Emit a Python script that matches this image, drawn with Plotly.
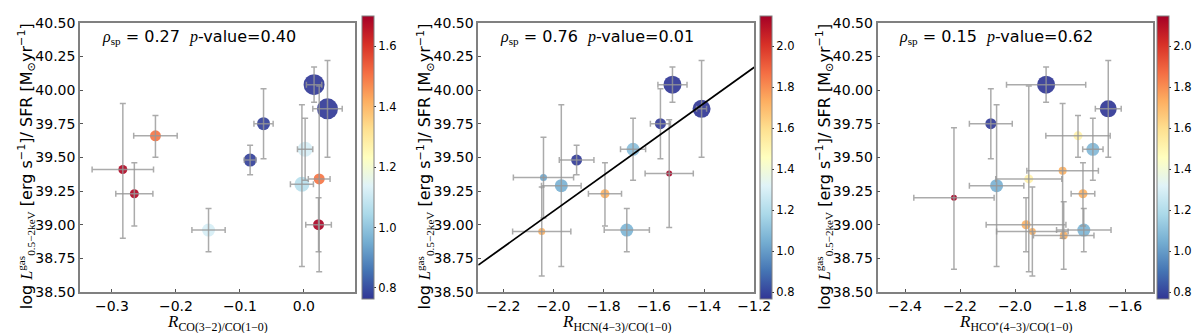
import numpy as np
import plotly.graph_objects as go

# ---------------- data ----------------
# Panel 1: R_CO(3-2)/CO(1-0)
x1 = [0.016, 0.037, -0.063, -0.084, 0.002, -0.003, 0.024, 0.023, -0.232, -0.283, -0.265, -0.149]
y1 = [40.04, 39.86, 39.75, 39.48, 39.56, 39.30, 39.34, 39.00, 39.66, 39.41, 39.23, 38.96]
xe1 = [0.012, 0.023, 0.015, 0.009, 0.012, 0.018, 0.017, 0.020, 0.034, 0.048, 0.029, 0.026]
ye1_up = [0.13, 0.36, 0.26, 0.11, 0.23, 0.59, 0.69, 0.20, 0.15, 0.49, 0.23, 0.16]
ye1_dn = [0.13, 0.36, 0.26, 0.11, 0.23, 0.61, 0.69, 0.20, 0.16, 0.51, 0.24, 0.16]
c1 = [0.77, 0.77, 0.78, 0.78, 1.12, 1.07, 1.50, 1.69, 1.50, 1.68, 1.68, 1.12]
s1 = [21, 21, 13, 13, 15, 15, 11, 11, 11, 9, 9, 13]

# Panel 2: R_HCN(4-3)/CO(1-0)
x2 = [-1.526, -1.410, -1.574, -1.908, -1.683, -1.539, -2.040, -1.969, -1.795, -2.047, -1.708]
y2 = [40.04, 39.86, 39.75, 39.48, 39.56, 39.38, 39.35, 39.29, 39.23, 38.95, 38.96]
xe2 = [0.058, 0.020, 0.040, 0.069, 0.050, 0.096, 0.120, 0.079, 0.066, 0.116, 0.090]
ye2_up = [0.13, 0.36, 0.26, 0.11, 0.23, 0.40, 0.30, 0.60, 0.23, 0.33, 0.16]
ye2_dn = [0.13, 0.36, 0.26, 0.11, 0.23, 0.40, 0.30, 0.60, 0.24, 0.33, 0.16]
c2 = [0.77, 0.77, 0.78, 0.78, 1.10, 2.14, 1.03, 1.06, 1.72, 1.72, 1.07]
s2 = [18, 18, 11, 11, 13, 6, 7, 13, 9, 7, 13]
fit_slope = 1.336
fit_intercept = 41.773

# Panel 3: R_HCO+(4-3)/CO(1-0)
x3 = [-1.887, -1.661, -2.088, -1.771, -1.717, -1.827, -1.950, -2.067, -2.222, -1.753, -1.960, -1.937, -1.823, -1.750]
y3 = [40.04, 39.86, 39.75, 39.66, 39.56, 39.40, 39.34, 39.29, 39.20, 39.23, 39.00, 38.95, 38.92, 38.96]
xe3 = [0.144, 0.047, 0.078, 0.117, 0.037, 0.130, 0.120, 0.099, 0.146, 0.043, 0.145, 0.130, 0.110, 0.099]
ye3_up = [0.13, 0.36, 0.26, 0.15, 0.23, 0.50, 0.69, 0.60, 0.52, 0.23, 0.20, 0.33, 0.25, 0.16]
ye3_dn = [0.13, 0.36, 0.26, 0.16, 0.23, 0.50, 0.69, 0.60, 0.53, 0.24, 0.20, 0.33, 0.25, 0.16]
c3 = [0.77, 0.77, 0.78, 1.52, 1.08, 1.72, 1.52, 1.06, 2.14, 1.72, 1.72, 1.72, 1.72, 1.07]
s3 = [18, 17, 11, 9, 13, 8, 9, 13, 6, 9, 9, 7, 8, 13]

rho_texts = ["0.27", "0.76", "0.15"]
p_texts = ["0.40", "0.01", "0.62"]
cranges = [(0.764, 1.70), (0.767, 2.148), (0.767, 2.148)]
cticks = [[0.8, 1.0, 1.2, 1.4, 1.6], [0.8, 1.0, 1.2, 1.4, 1.6, 1.8, 2.0], [0.8, 1.0, 1.2, 1.4, 1.6, 1.8, 2.0]]
xranges = [(-0.35, 0.08), (-2.3, -1.2), (-2.5, -1.5)]
xtickvals = [[-0.3, -0.2, -0.1, 0.0], [-2.2, -2.0, -1.8, -1.6, -1.4, -1.2], [-2.4, -2.2, -2.0, -1.8, -1.6]]
ytickvals = [38.50, 38.75, 39.00, 39.25, 39.50, 39.75, 40.00, 40.25, 40.50]
yrange = (38.4999, 40.5001)

# ---------------- style ----------------
W, H = 1200, 333
RDYLBU_R = [
    [0.0, 'rgb(49,54,149)'], [0.1, 'rgb(69,117,180)'], [0.2, 'rgb(116,173,209)'],
    [0.3, 'rgb(171,217,233)'], [0.4, 'rgb(224,243,248)'], [0.5, 'rgb(255,255,191)'],
    [0.6, 'rgb(254,224,144)'], [0.7, 'rgb(253,174,97)'], [0.8, 'rgb(244,109,67)'],
    [0.9, 'rgb(215,48,39)'], [1.0, 'rgb(165,0,38)']]
SERIF = "Liberation Serif, Times New Roman, serif"
SANS = "DejaVu Sans, sans-serif"

panel_px = [(73, 352), (477, 757), (882, 1161)]
cbar_px = [359, 763, 1166]
plot_top, plot_bot = 7, 290
ydom = [(H - plot_bot) / H, (H - plot_top) / H]

xtitles = [
    "<i>R</i><sub>CO(3−2)/CO(1−0)</sub>",
    "<i>R</i><sub>HCN(4−3)/CO(1−0)</sub>",
    "<i>R</i><sub>HCO⁺(4−3)/CO(1−0)</sub>",
]
ytitle = ('log <span style="font-family:Liberation Serif"><i>L</i></span>'
          '<span style="font-family:Liberation Serif"><sup>gas</sup><sub>0.5−2keV</sub></span>'
          ' [erg s<sup>−1</sup>]/ SFR [M<sub>⊙</sub>yr<sup>−1</sup>]')

panels = [
    (x1, y1, xe1, ye1_up, ye1_dn, c1, s1),
    (x2, y2, xe2, ye2_up, ye2_dn, c2, s2),
    (x3, y3, xe3, ye3_up, ye3_dn, c3, s3),
]

fig = go.Figure()
layout = dict(width=W, height=H, margin=dict(l=0, r=0, t=0, b=0),
              paper_bgcolor='white', plot_bgcolor='white', showlegend=False,
              font=dict(family=SANS, size=14, color='black'))
annotations = []

for i, (xs, ys, xe, yu, yd, cs, ss) in enumerate(panels):
    k = '' if i == 0 else str(i + 1)
    xa, ya = 'x' + k, 'y' + k
    cmin, cmax = cranges[i]
    # markers
    fig.add_trace(go.Scatter(
        x=xs, y=ys, mode='markers', xaxis=xa, yaxis=ya, hoverinfo='skip',
        marker=dict(size=ss, color=cs, colorscale=RDYLBU_R, cmin=cmin, cmax=cmax,
                    opacity=0.92, line=dict(width=0), showscale=True,
                    colorbar=dict(x=cbar_px[i] / W, xanchor='left', xpad=0, ypad=0,
                                  y=(ydom[0] + ydom[1]) / 2, yanchor='middle',
                                  len=plot_bot - plot_top, lenmode='pixels',
                                  thickness=12, thicknessmode='pixels',
                                  outlinecolor='#808080', outlinewidth=1,
                                  tickvals=cticks[i], tickformat='.1f',
                                  ticks='outside', ticklen=2, tickcolor='#333',
                                  ticklabeloverflow='allow',
                                  tickfont=dict(size=11.5, family=SANS)))))
    # error bars on top
    fig.add_trace(go.Scatter(
        x=xs, y=ys, mode='markers', xaxis=xa, yaxis=ya, hoverinfo='skip',
        marker=dict(size=2, opacity=0),
        error_x=dict(type='data', array=xe, symmetric=True,
                     color='rgba(150,150,150,0.8)', thickness=1.5, width=3),
        error_y=dict(type='data', array=yu, arrayminus=yd, symmetric=False,
                     color='rgba(150,150,150,0.8)', thickness=1.5, width=3)))
    if i == 1:
        xl = np.array(xranges[1])
        fig.add_trace(go.Scatter(x=xl, y=fit_intercept + fit_slope * xl, mode='lines',
                                 xaxis=xa, yaxis=ya, hoverinfo='skip',
                                 line=dict(color='black', width=1.8)))
    l, r = panel_px[i]
    layout['xaxis' + k] = dict(domain=[l / W, r / W], anchor=ya, range=list(xranges[i]),
                               tickvals=xtickvals[i], tickformat='.1f',
                               showline=True, linecolor='#808080', linewidth=1.5, mirror=True,
                               ticks='inside', ticklen=3, tickcolor='#555',
                               ticklabeloverflow='allow',
                               showgrid=False, zeroline=False, tickfont=dict(size=14))
    layout['yaxis' + k] = dict(domain=ydom, anchor=xa, range=list(yrange),
                               tickvals=ytickvals, tickformat='.2f',
                               showline=True, linecolor='#808080', linewidth=1.5, mirror=True,
                               ticks='inside', ticklen=3, tickcolor='#555',
                               ticklabeloverflow='allow',
                               showgrid=False, zeroline=False, tickfont=dict(size=14))
    # correlation text
    annotations.append(dict(
        xref=xa + ' domain', yref=ya + ' domain', x=0.072, y=0.945,
        xanchor='left', yanchor='middle', showarrow=False,
        font=dict(size=16, family=SANS),
        text=('<span style="font-family:Liberation Serif"><i>ρ</i><sub>sp</sub></span>'
              ' = ' + rho_texts[i] + '\u00a0 '
              '<span style="font-family:Liberation Serif"><i>p</i></span>-value=' + p_texts[i])))
    # x title
    annotations.append(dict(
        xref='paper', yref='paper', x=(l + r) / 2 / W, y=(H - 322) / H,
        xanchor='center', yanchor='middle', showarrow=False,
        font=dict(size=17, family=SERIF), text=xtitles[i]))
    # y title
    annotations.append(dict(
        xref='paper', yref='paper', x=(l - 54) / W, y=(H - 158) / H,
        xanchor='center', yanchor='middle', showarrow=False, textangle=-90,
        font=dict(size=16, family=SANS), text=ytitle))

layout['annotations'] = annotations
fig.update_layout(**layout)
fig.write_html("out.html")
